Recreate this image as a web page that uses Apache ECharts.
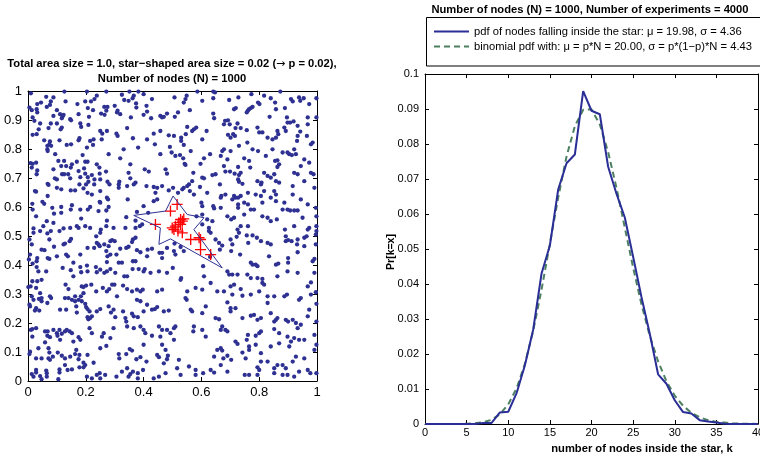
<!DOCTYPE html>
<html>
<head>
<meta charset="utf-8">
<script src="https://cdn.jsdelivr.net/npm/echarts@6/dist/echarts.min.js"></script>
<style>
  html, body { margin: 0; padding: 0; background: #fff; }
  #chart { width: 760px; height: 457px; }
</style>
</head>
<body>
<div id="chart"></div>
<script>
// 左图：1000 个节点的位置 (x, y)
const nodes = [
  [0.010,0.992],[0.126,0.998],[0.204,0.998],[0.271,0.998],[0.351,0.998],[0.382,0.998],[0.400,0.989],[0.366,0.984],[0.362,0.975],[0.238,0.984],
  [0.230,0.972],[0.063,0.980],[0.088,0.978],[0.130,0.964],[0.045,0.960],[0.032,0.955],[0.079,0.964],[0.076,0.952],[0.005,0.943],[0.171,0.955],
  [0.198,0.964],[0.218,0.964],[0.264,0.945],[0.275,0.945],[0.300,0.949],[0.325,0.987],[0.333,0.969],[0.348,0.966],[0.374,0.957],[0.375,0.943],
  [0.410,0.949],[0.429,0.972],[0.013,0.934],[0.030,0.937],[0.032,0.926],[0.065,0.945],[0.100,0.934],[0.111,0.920],[0.088,0.914],[0.120,0.913],
  [0.117,0.906],[0.123,0.918],[0.149,0.899],[0.146,0.903],[0.207,0.941],[0.225,0.934],[0.175,0.920],[0.211,0.911],[0.271,0.932],[0.310,0.932],
  [0.253,0.922],[0.265,0.918],[0.308,0.926],[0.319,0.920],[0.356,0.909],[0.400,0.918],[0.412,0.929],[0.426,0.906],[0.016,0.909],[0.022,0.897],
  [0.042,0.888],[0.079,0.888],[0.100,0.888],[0.117,0.874],[0.113,0.868],[0.181,0.888],[0.184,0.876],[0.209,0.883],[0.071,0.872],[0.037,0.868],
  [0.030,0.851],[0.016,0.849],[0.250,0.862],[0.257,0.853],[0.273,0.862],[0.306,0.853],[0.310,0.845],[0.343,0.872],[0.363,0.837],[0.435,0.853],
  [0.458,0.862],[0.056,0.830],[0.076,0.826],[0.074,0.816],[0.080,0.811],[0.067,0.811],[0.067,0.799],[0.068,0.793],[0.109,0.830],[0.134,0.814],
  [0.149,0.816],[0.175,0.830],[0.178,0.837],[0.204,0.805],[0.215,0.828],[0.227,0.833],[0.225,0.814],[0.255,0.833],[0.279,0.782],[0.331,0.799],
  [0.381,0.805],[0.412,0.833],[0.439,0.816],[0.458,0.782],[0.009,0.751],[0.016,0.749],[0.028,0.753],[0.013,0.736],[0.094,0.782],[0.105,0.759],
  [0.115,0.741],[0.125,0.759],[0.132,0.741],[0.118,0.713],[0.125,0.713],[0.139,0.713],[0.146,0.699],[0.088,0.730],[0.093,0.699],[0.100,0.695],
  [0.032,0.726],[0.030,0.713],[0.152,0.747],[0.169,0.756],[0.189,0.779],[0.198,0.756],[0.194,0.733],[0.206,0.756],[0.148,0.736],[0.175,0.724],
  [0.181,0.703],[0.198,0.715],[0.207,0.703],[0.209,0.687],[0.221,0.710],[0.230,0.695],[0.201,0.678],[0.238,0.747],[0.247,0.736],[0.248,0.715],
  [0.250,0.695],[0.270,0.722],[0.229,0.678],[0.275,0.687],[0.282,0.678],[0.316,0.687],[0.348,0.718],[0.354,0.699],[0.366,0.678],[0.372,0.684],
  [0.404,0.730],[0.418,0.722],[0.354,0.747],[0.319,0.768],[0.068,0.680],[0.071,0.676],[0.024,0.655],[0.028,0.653],[0.068,0.638],[0.100,0.666],
  [0.115,0.661],[0.148,0.657],[0.163,0.657],[0.178,0.678],[0.192,0.664],[0.206,0.649],[0.221,0.643],[0.250,0.655],[0.248,0.618],[0.273,0.632],
  [0.277,0.626],[0.250,0.615],[0.314,0.678],[0.314,0.666],[0.343,0.672],[0.345,0.626],[0.410,0.672],[0.435,0.669],[0.447,0.666],[0.441,0.649],
  [0.435,0.620],[0.447,0.626],[0.400,0.603],[0.416,0.580],[0.377,0.583],[0.015,0.611],[0.050,0.618],[0.056,0.611],[0.016,0.591],[0.028,0.568],
  [0.084,0.597],[0.115,0.600],[0.115,0.580],[0.090,0.577],[0.152,0.606],[0.148,0.591],[0.181,0.591],[0.207,0.591],[0.215,0.600],[0.244,0.586],
  [0.271,0.588],[0.279,0.600],[0.340,0.565],[0.372,0.553],[0.395,0.540],[0.372,0.528],[0.387,0.534],[0.337,0.528],[0.296,0.528],[0.273,0.553],
  [0.271,0.534],[0.215,0.528],[0.198,0.534],[0.184,0.560],[0.169,0.534],[0.175,0.528],[0.146,0.528],[0.123,0.526],[0.088,0.545],[0.065,0.551],
  [0.053,0.534],[0.019,0.526],
  [0.586,0.998],[0.641,0.998],[0.647,0.995],[0.507,0.978],[0.549,0.984],[0.545,0.972],[0.539,0.960],[0.603,0.966],[0.641,0.975],[0.696,0.969],
  [0.728,0.978],[0.773,0.989],[0.796,0.960],[0.801,0.955],[0.817,0.984],[0.840,0.975],[0.855,0.960],[0.873,0.998],[0.910,0.972],[0.916,0.964],
  [0.938,0.978],[0.942,0.966],[0.954,0.975],[0.973,0.955],[0.998,0.975],[0.560,0.934],[0.519,0.926],[0.508,0.911],[0.481,0.922],[0.458,0.914],
  [0.464,0.909],[0.470,0.911],[0.641,0.922],[0.644,0.906],[0.713,0.937],[0.719,0.941],[0.761,0.932],[0.765,0.937],[0.771,0.941],[0.777,0.945],
  [0.757,0.926],[0.836,0.911],[0.858,0.937],[0.889,0.941],[0.896,0.909],[0.907,0.891],[0.898,0.891],[0.919,0.895],[0.933,0.880],[0.968,0.885],
  [0.968,0.909],[0.998,0.909],[0.682,0.897],[0.692,0.899],[0.698,0.885],[0.678,0.885],[0.725,0.888],[0.718,0.872],[0.736,0.872],[0.757,0.865],
  [0.794,0.874],[0.800,0.857],[0.811,0.857],[0.863,0.862],[0.866,0.851],[0.858,0.839],[0.846,0.833],[0.829,0.839],[0.887,0.874],[0.892,0.862],
  [0.933,0.845],[0.942,0.860],[0.931,0.828],[0.965,0.845],[0.985,0.822],[0.979,0.816],[0.551,0.876],[0.574,0.868],[0.582,0.874],[0.568,0.862],
  [0.618,0.862],[0.487,0.847],[0.505,0.845],[0.530,0.839],[0.546,0.851],[0.530,0.828],[0.539,0.814],[0.603,0.833],[0.692,0.849],[0.701,0.839],
  [0.710,0.851],[0.716,0.845],[0.730,0.811],[0.759,0.822],[0.678,0.799],[0.672,0.793],[0.667,0.776],[0.701,0.793],[0.777,0.799],[0.491,0.807],
  [0.497,0.788],[0.510,0.776],[0.526,0.779],[0.537,0.768],[0.542,0.749],[0.545,0.745],[0.563,0.793],[0.597,0.749],[0.609,0.768],[0.630,0.782],
  [0.796,0.793],[0.823,0.776],[0.846,0.799],[0.855,0.759],[0.863,0.761],[0.869,0.747],[0.863,0.738],[0.881,0.788],[0.898,0.788],[0.904,0.782],
  [0.913,0.779],[0.921,0.799],[0.927,0.782],[0.944,0.741],[0.979,0.718],[0.988,0.713],[0.973,0.753],[0.956,0.764],[0.921,0.718],[0.933,0.713],
  [0.476,0.730],[0.481,0.715],[0.572,0.718],[0.603,0.701],[0.638,0.710],[0.649,0.713],[0.678,0.741],[0.683,0.722],[0.699,0.722],[0.715,0.715],
  [0.730,0.710],[0.736,0.718],[0.765,0.759],[0.769,0.736],[0.727,0.738],[0.690,0.764],[0.748,0.768],[0.817,0.718],[0.829,0.707],[0.852,0.713],
  [0.840,0.701],[0.869,0.684],[0.794,0.689],[0.808,0.684],[0.806,0.678],[0.858,0.689],[0.956,0.689],[0.916,0.672],[0.727,0.695],[0.730,0.687],
  [0.742,0.680],[0.557,0.678],[0.568,0.689],[0.609,0.699],[0.664,0.678],[0.991,0.666],[0.464,0.672],[0.487,0.657],[0.502,0.666],[0.519,0.649],
  [0.534,0.661],[0.539,0.666],[0.551,0.672],[0.560,0.655],[0.574,0.643],[0.595,0.669],[0.620,0.649],[0.669,0.638],[0.683,0.643],[0.667,0.632],
  [0.713,0.638],[0.718,0.632],[0.727,0.632],[0.707,0.626],[0.736,0.638],[0.761,0.649],[0.788,0.643],[0.806,0.638],[0.817,0.655],[0.852,0.655],
  [0.858,0.643],[0.840,0.632],[0.858,0.620],[0.887,0.615],[0.916,0.643],[0.944,0.626],[0.968,0.609],[0.996,0.597],[0.898,0.591],[0.907,0.588],
  [0.921,0.588],[0.933,0.588],[0.881,0.591],[0.811,0.615],[0.748,0.615],[0.761,0.609],[0.727,0.609],[0.600,0.615],[0.603,0.603],[0.641,0.603],
  [0.644,0.595],[0.667,0.597],[0.690,0.568],[0.703,0.557],[0.713,0.563],[0.727,0.597],[0.748,0.574],[0.771,0.591],[0.782,0.591],[0.811,0.568],
  [0.829,0.563],[0.840,0.551],[0.861,0.557],[0.950,0.563],[0.998,0.568],[0.889,0.522],[0.921,0.534],[0.761,0.534],[0.736,0.534],[0.725,0.522],
  [0.638,0.551],[0.626,0.528],[0.620,0.557],[0.603,0.574],[0.583,0.568],[0.603,0.540],[0.973,0.528],[0.998,0.534],[0.968,0.522],
  [0.005,0.488],[0.013,0.471],[0.019,0.511],[0.042,0.517],[0.067,0.509],[0.079,0.517],[0.109,0.517],[0.149,0.490],[0.144,0.482],[0.123,0.471],
  [0.128,0.474],[0.074,0.488],[0.047,0.453],[0.057,0.451],[0.007,0.436],[0.003,0.419],[0.032,0.424],[0.030,0.413],[0.068,0.424],[0.074,0.421],
  [0.090,0.463],[0.100,0.430],[0.132,0.436],[0.138,0.430],[0.157,0.408],[0.181,0.436],[0.206,0.459],[0.229,0.459],[0.238,0.476],[0.244,0.471],
  [0.248,0.465],[0.252,0.522],[0.250,0.511],[0.236,0.499],[0.264,0.471],[0.271,0.448],[0.279,0.465],[0.285,0.482],[0.291,0.486],[0.300,0.482],
  [0.285,0.436],[0.275,0.430],[0.273,0.410],[0.306,0.436],[0.319,0.456],[0.340,0.459],[0.348,0.463],[0.325,0.408],[0.314,0.408],[0.360,0.479],
  [0.363,0.488],[0.372,0.494],[0.377,0.451],[0.389,0.444],[0.363,0.413],[0.372,0.413],[0.414,0.453],[0.412,0.430],[0.429,0.456],[0.455,0.442],
  [0.016,0.405],[0.030,0.393],[0.036,0.378],[0.063,0.378],[0.120,0.390],[0.148,0.382],[0.157,0.361],[0.181,0.393],[0.184,0.375],[0.204,0.398],
  [0.206,0.378],[0.235,0.393],[0.238,0.375],[0.250,0.384],[0.264,0.373],[0.273,0.378],[0.285,0.386],[0.302,0.373],[0.333,0.361],[0.343,0.361],
  [0.362,0.386],[0.383,0.386],[0.400,0.378],[0.404,0.386],[0.424,0.373],[0.453,0.378],[0.001,0.324],[0.009,0.326],[0.015,0.344],[0.032,0.344],
  [0.047,0.349],[0.028,0.321],[0.013,0.292],[0.019,0.280],[0.042,0.303],[0.038,0.283],[0.047,0.286],[0.047,0.275],[0.080,0.286],[0.067,0.269],
  [0.076,0.292],[0.130,0.332],[0.140,0.317],[0.128,0.286],[0.140,0.286],[0.152,0.280],[0.163,0.275],[0.163,0.292],[0.175,0.280],[0.186,0.275],
  [0.183,0.292],[0.192,0.303],[0.186,0.326],[0.192,0.324],[0.201,0.329],[0.219,0.332],[0.236,0.309],[0.259,0.321],[0.273,0.309],[0.281,0.317],
  [0.291,0.332],[0.299,0.332],[0.308,0.292],[0.329,0.329],[0.343,0.317],[0.360,0.309],[0.377,0.315],[0.389,0.309],[0.397,0.315],[0.377,0.280],
  [0.389,0.275],[0.412,0.263],[0.447,0.309],[0.005,0.263],[0.007,0.257],[0.028,0.251],[0.024,0.243],[0.039,0.243],[0.111,0.246],[0.132,0.246],
  [0.167,0.257],[0.169,0.236],[0.198,0.266],[0.201,0.255],[0.206,0.248],[0.213,0.240],[0.206,0.220],[0.209,0.213],[0.215,0.217],[0.221,0.223],
  [0.238,0.240],[0.250,0.248],[0.279,0.257],[0.287,0.236],[0.296,0.246],[0.302,0.220],[0.329,0.240],[0.337,0.217],[0.340,0.205],[0.360,0.232],
  [0.366,0.223],[0.380,0.220],[0.400,0.240],[0.429,0.246],[0.439,0.248],[0.447,0.255],[0.010,0.176],[0.015,0.179],[0.028,0.182],[0.059,0.171],
  [0.068,0.171],[0.067,0.156],[0.076,0.151],[0.088,0.176],[0.100,0.165],[0.102,0.156],[0.109,0.176],[0.117,0.163],[0.128,0.171],[0.134,0.176],
  [0.144,0.171],[0.152,0.165],[0.111,0.142],[0.157,0.136],[0.175,0.151],[0.181,0.142],[0.213,0.182],[0.221,0.165],[0.256,0.153],[0.262,0.165],
  [0.296,0.182],[0.343,0.188],[0.366,0.182],[0.389,0.188],[0.400,0.176],[0.406,0.165],[0.429,0.156],[0.453,0.188],[0.015,0.153],[0.005,0.093],
  [0.007,0.101],[0.036,0.113],[0.059,0.133],[0.071,0.113],[0.074,0.098],[0.076,0.073],[0.071,0.078],[0.086,0.084],[0.103,0.098],[0.117,0.087],
  [0.128,0.078],[0.146,0.084],[0.163,0.093],[0.167,0.107],[0.178,0.090],[0.175,0.075],[0.192,0.063],[0.198,0.055],[0.206,0.090],[0.227,0.063],
  [0.250,0.113],[0.271,0.121],[0.285,0.148],[0.314,0.093],[0.316,0.078],[0.340,0.093],[0.352,0.110],[0.360,0.105],[0.375,0.075],[0.389,0.082],
  [0.400,0.125],[0.410,0.067],[0.447,0.090],[0.453,0.082],[0.028,0.078],[0.047,0.078],[0.028,0.038],[0.028,0.029],[0.013,0.024],[0.019,0.015],
  [0.042,0.017],[0.063,0.036],[0.065,0.027],[0.109,0.040],[0.109,0.029],[0.128,0.055],[0.137,0.038],[0.152,0.040],[0.178,0.047],[0.192,0.047],
  [0.248,0.027],[0.267,0.021],[0.306,0.015],[0.325,0.032],[0.343,0.044],[0.348,0.015],[0.354,0.024],[0.363,0.032],[0.380,0.027],[0.380,0.009],
  [0.398,0.038],[0.435,0.009],[0.453,0.015],[0.065,0.015],[0.047,0.006],[0.105,0.006],[0.204,0.015],[0.221,0.009],[0.238,0.021],[0.250,0.009],
  [0.626,0.517],[0.632,0.511],[0.649,0.488],[0.661,0.476],[0.664,0.453],[0.672,0.467],[0.701,0.488],[0.707,0.471],[0.722,0.497],[0.730,0.511],
  [0.757,0.502],[0.762,0.476],[0.777,0.502],[0.792,0.494],[0.806,0.482],[0.829,0.476],[0.840,0.471],[0.892,0.482],[0.900,0.486],[0.912,0.482],
  [0.931,0.471],[0.933,0.488],[0.956,0.494],[0.964,0.499],[0.996,0.505],[0.996,0.471],[0.998,0.517],[0.703,0.448],[0.734,0.436],[0.771,0.408],
  [0.777,0.401],[0.788,0.401],[0.794,0.396],[0.834,0.430],[0.858,0.401],[0.866,0.405],[0.900,0.424],[0.900,0.408],[0.933,0.444],[0.985,0.413],
  [0.991,0.421],[0.956,0.465],[0.892,0.499],[0.528,0.462],[0.481,0.459],[0.505,0.448],[0.510,0.436],[0.464,0.424],[0.464,0.442],[0.507,0.474],
  [0.539,0.448],[0.630,0.428],[0.690,0.378],[0.696,0.367],[0.707,0.367],[0.725,0.367],[0.759,0.367],[0.771,0.355],[0.794,0.355],[0.811,0.352],
  [0.811,0.338],[0.817,0.332],[0.863,0.361],[0.898,0.378],[0.933,0.373],[0.991,0.373],[0.979,0.340],[0.968,0.326],[0.979,0.298],[0.996,0.306],
  [0.998,0.266],[0.896,0.298],[0.887,0.292],[0.852,0.292],[0.829,0.292],[0.800,0.309],[0.771,0.298],[0.742,0.294],[0.606,0.396],[0.609,0.361],
  [0.632,0.338],[0.655,0.309],[0.678,0.309],[0.701,0.326],[0.713,0.332],[0.736,0.317],[0.707,0.298],[0.690,0.271],[0.603,0.315],[0.580,0.321],
  [0.551,0.309],[0.545,0.286],[0.549,0.280],[0.528,0.349],[0.530,0.355],[0.501,0.390],[0.481,0.373],[0.464,0.315],[0.829,0.269],[0.944,0.286],
  [0.938,0.280],[0.470,0.240],[0.487,0.243],[0.563,0.246],[0.568,0.240],[0.603,0.234],[0.615,0.257],[0.661,0.213],[0.649,0.217],[0.672,0.188],
  [0.683,0.176],[0.690,0.171],[0.667,0.176],[0.701,0.251],[0.718,0.251],[0.701,0.240],[0.742,0.217],[0.771,0.225],[0.782,0.228],[0.794,0.211],
  [0.806,0.217],[0.840,0.234],[0.852,0.205],[0.858,0.211],[0.863,0.217],[0.892,0.211],[0.900,0.205],[0.916,0.211],[0.927,0.200],[0.933,0.182],
  [0.944,0.194],[0.968,0.223],[0.973,0.246],[0.998,0.205],[0.991,0.159],[0.956,0.142],[0.938,0.142],[0.921,0.148],[0.898,0.153],[0.869,0.165],
  [0.852,0.179],[0.806,0.171],[0.800,0.165],[0.788,0.156],[0.757,0.142],[0.761,0.159],[0.615,0.153],[0.574,0.188],[0.572,0.171],[0.510,0.188],
  [0.505,0.182],[0.493,0.165],[0.481,0.176],[0.464,0.176],[0.458,0.153],[0.505,0.142],[0.603,0.176],[0.464,0.125],[0.476,0.107],[0.484,0.087],
  [0.481,0.075],[0.470,0.061],[0.476,0.027],[0.522,0.073],[0.557,0.050],[0.580,0.038],[0.580,0.021],[0.606,0.027],[0.632,0.038],[0.644,0.029],
  [0.644,0.084],[0.655,0.107],[0.667,0.113],[0.672,0.105],[0.676,0.078],[0.690,0.087],[0.703,0.073],[0.667,0.055],[0.690,0.032],[0.718,0.136],
  [0.725,0.128],[0.765,0.119],[0.765,0.107],[0.788,0.125],[0.806,0.067],[0.794,0.047],[0.800,0.038],[0.829,0.067],[0.852,0.044],[0.863,0.055],
  [0.881,0.055],[0.892,0.044],[0.916,0.067],[0.927,0.084],[0.956,0.078],[0.968,0.038],[0.977,0.027],[0.998,0.027],[0.998,0.125],[0.991,0.107],
  [0.910,0.136],[0.904,0.119],[0.869,0.130],[0.840,0.119],[0.806,0.096],[0.742,0.098],[0.753,0.078],[0.750,0.021],[0.765,0.021],[0.794,0.021],
  [0.852,0.027],[0.881,0.021],[0.898,0.021],[0.921,0.015],[0.938,0.032],[0.516,0.044],[0.528,0.021]
]

// 落在星形内的节点（红色十字）
const insideNodes = [
  [0.516,0.609],[0.493,0.586],[0.441,0.540],[0.528,0.557],[0.534,0.551],[0.522,0.546],[0.510,0.534],[0.505,0.522],[0.519,0.517],
  [0.534,0.511],[0.563,0.488],[0.592,0.494],[0.597,0.488],[0.597,0.453],[0.632,0.436],[0.539,0.559],[0.499,0.528],[0.528,0.540]
]

// 星形轮廓的顶点
const starOutline = [
  [0.366,0.571],[0.476,0.586],[0.502,0.638],[0.551,0.574],[0.609,0.563],[0.574,0.522],
  [0.672,0.390],[0.493,0.490],[0.453,0.471],[0.458,0.528],[0.366,0.571]
]

// 右图：k = 0..40
const kValues = [0,1,2,3,4,5,6,7,8,9,10,11,12,13,14,15,16,17,18,19,20,21,22,23,24,25,26,27,28,29,30,31,32,33,34,35,36,37,38,39,40]
const pdfMeasured = [0,0,0,0,0,0,0,0.0003,0.0003,0.0033,0.0035,0.0088,0.0168,0.027,0.043,0.051,0.067,0.0745,0.077,0.0951,0.0895,
  0.0885,0.0735,0.0658,0.059,0.0478,0.0363,0.0258,0.0142,0.0115,0.0068,0.0034,0.003,0.0011,0.0007,0.0004,0.0001,0,0,0,0]
const pdfBinomial = [0,0,0,0,0,0.00005,0.0002,0.0005,0.0012,0.0028,0.0056,0.0102,0.0172,0.0267,0.0384,0.0515,0.0647,0.0764,0.0851,0.0898,0.0899,
  0.0856,0.0777,0.0675,0.0561,0.0447,0.0342,0.0252,0.0179,0.0122,0.0081,0.0052,0.0032,0.0019,0.0011,0.0006,0.0004,0.0002,0.0001,0.0001,0]

const leftTicksX = { min: 0, max: 1, interval: 0.2 }
const leftTicksY = { min: 0, max: 1, interval: 0.1 }
const rightTicksX = { min: 0, max: 40, interval: 5 }
const rightTicksY = { min: 0, max: 0.1, interval: 0.01 }

const legendNames = [
  'pdf of nodes falling inside the star: \u03bc = 19.98, \u03c3 = 4.36',
  'binomial pdf with: \u03bc = p*N = 20.00, \u03c3 = p*(1\u2212p)*N = 4.43'
]

const FONT = '"Liberation Sans", Arial, Helvetica, sans-serif'
const DOT = '#2e3192'
const BLUE = '#2a2e96'
const GREEN = '#4c8060'

// 坐标轴通用样式（matlab 风格的框线和内刻度）
const boxAxis = (gridIndex, position, ticks, showLabel, fontSize, margin) => ({
  type: 'value',
  gridIndex,
  position,
  ...ticks,
  splitLine: { show: false },
  axisLine: { show: true, onZero: false, lineStyle: { color: '#000', width: 1 } },
  axisTick: { show: true, inside: true, length: 4, lineStyle: { color: '#000' } },
  axisLabel: { show: showLabel, color: '#000', fontSize, fontFamily: FONT, margin },
})

const titleText = (x, y, text, size) => ({
  type: 'text',
  x,
  y,
  style: {
    text,
    font: 'bold ' + size + 'px ' + FONT,
    align: 'center',
    verticalAlign: 'middle',
    fill: '#000',
  },
})

const myChart = echarts.init(document.getElementById('chart'))

const option = {
  animation: false,
  backgroundColor: '#fff',
  grid: [
    { left: 28, top: 91, width: 289, height: 290, outerBoundsMode: 'none' },
    { left: 425, top: 74, width: 333, height: 350, outerBoundsMode: 'none' },
  ],
  xAxis: [
    boxAxis(0, 'bottom', leftTicksX, true, 13, 5),
    boxAxis(0, 'top', leftTicksX, false, 13, 5),
    boxAxis(1, 'bottom', rightTicksX, true, 11, 3),
    boxAxis(1, 'top', rightTicksX, false, 11, 3),
  ],
  yAxis: [
    boxAxis(0, 'left', leftTicksY, true, 13, 6),
    boxAxis(0, 'right', leftTicksY, false, 13, 6),
    boxAxis(1, 'left', rightTicksY, true, 11, 6),
    boxAxis(1, 'right', rightTicksY, false, 11, 6),
  ],
  legend: {
    orient: 'vertical',
    left: 433,
    top: 26,
    padding: 0,
    itemWidth: 35,
    itemHeight: 12,
    itemGap: 4,
    data: legendNames,
    itemStyle: { opacity: 0 },
    textStyle: { fontSize: 11.2, fontFamily: FONT, color: '#000' },
  },
  graphic: [
    {
      type: 'rect',
      shape: { x: 426.5, y: 17.5, width: 345, height: 48.5 },
      style: { fill: 'none', stroke: '#000', lineWidth: 1 },
      z: -1,
    },
    {
      // 箭头用 DejaVu 字体，Liberation 里的箭头太小
      type: 'text',
      x: 172,
      y: 64,
      style: {
        text: '{b|Total area size = 1.0, star\u2212shaped area size = 0.02 (}{a|\u2192}{b| p = 0.02),}',
        align: 'center',
        verticalAlign: 'middle',
        rich: {
          b: { font: 'bold 11.2px ' + FONT, fill: '#000' },
          a: { font: '11px "DejaVu Sans", sans-serif', fill: '#000' },
        },
      },
    },
    titleText(172, 79, 'Number of nodes (N) = 1000', 11.2),
    titleText(590, 10, 'Number of nodes (N) = 1000, Number of experiments = 4000', 11.2),
    titleText(642, 449, 'number of nodes inside the star, k', 11.2),
    {
      type: 'text',
      x: 391,
      y: 252,
      rotation: Math.PI / 2,
      style: {
        text: 'Pr[k=x]',
        font: 'bold 10.5px ' + FONT,
        align: 'center',
        verticalAlign: 'middle',
        fill: '#000',
      },
    },
  ],
  series: [
    {
      type: 'scatter',
      xAxisIndex: 0,
      yAxisIndex: 0,
      data: nodes,
      symbol: 'circle',
      symbolSize: 4.3,
      itemStyle: { color: DOT, opacity: 1 },
      silent: true,
    },
    {
      type: 'line',
      xAxisIndex: 0,
      yAxisIndex: 0,
      data: starOutline,
      symbol: 'none',
      lineStyle: { color: DOT, width: 1 },
      silent: true,
    },
    {
      type: 'scatter',
      xAxisIndex: 0,
      yAxisIndex: 0,
      data: insideNodes,
      symbol: 'path://M4.4,0h1.2v10h-1.2zM0,4.4h10v1.2h-10z',
      symbolSize: 11,
      itemStyle: { color: '#ff0000', opacity: 1 },
      silent: true,
    },
    {
      name: legendNames[0],
      type: 'line',
      xAxisIndex: 2,
      yAxisIndex: 2,
      data: kValues.map((k, i) => [k, pdfMeasured[i]]),
      symbol: 'none',
      lineStyle: { color: BLUE, width: 2 },
      itemStyle: { color: BLUE },
      z: 3,
    },
    {
      name: legendNames[1],
      type: 'line',
      xAxisIndex: 2,
      yAxisIndex: 2,
      data: kValues.map((k, i) => [k, pdfBinomial[i]]),
      symbol: 'none',
      lineStyle: { color: GREEN, width: 2, type: [6, 4] },
      itemStyle: { color: GREEN },
      z: 2,
    },
  ],
}

myChart.setOption(option)
</script>
</body>
</html>
